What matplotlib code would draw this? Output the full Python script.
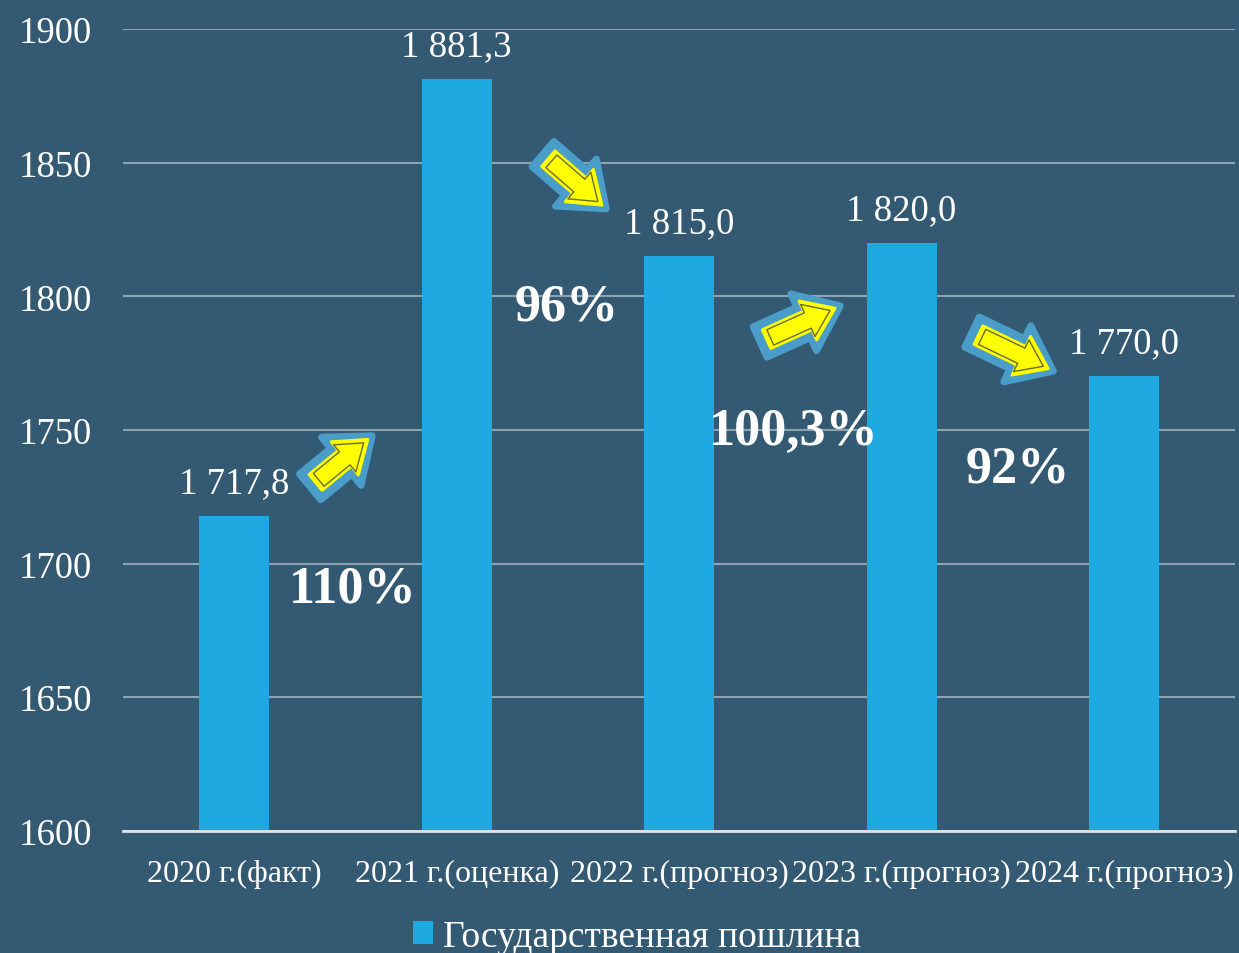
import matplotlib.pyplot as plt

plt.rcParams['font.family'] = ['Liberation Serif', 'DejaVu Serif']

years = ["2020 г.(факт)", "2021 г.(оценка)", "2022 г.(прогноз)", "2023 г.(прогноз)", "2024 г.(прогноз)"]
values = [1717.8, 1881.3, 1815.0, 1820.0, 1770.0]
labels = ["1 717,8", "1 881,3", "1 815,0", "1 820,0", "1 770,0"]
growth = ["110%", "96%", "100,3%", "92%"]

bg = '#345a73'
bar_c = '#1fa9e1'

fig = plt.figure(figsize=(12.39, 9.54), dpi=100, facecolor=bg)
ax = fig.add_axes([0.0993, 0.128, 0.8977, 0.8406])
ax.set_facecolor(bg)

x = range(len(years))
ax.bar(x, values, width=0.315, color=bar_c, zorder=2, label="Государственная пошлина")
for i, v in enumerate(values):
    ax.text(i, v + 6, labels[i], ha='center', va='bottom', color='white', fontsize=26.5)

ax.set_xlim(-0.5, 4.5)
ax.set_ylim(1600, 1900)
ax.set_yticks(range(1600, 1901, 50))
ax.set_xticks(list(x))
ax.set_xticklabels(years)
ax.tick_params(axis='y', length=0, pad=22, labelsize=26.5, labelcolor='white')
ax.tick_params(axis='x', length=0, pad=20, labelsize=23, labelcolor='white')
ax.grid(axis='y', color='#8ea3b2', lw=1.5, zorder=1)
for s in ['left', 'right', 'top']:
    ax.spines[s].set_visible(False)
ax.spines['bottom'].set_color('#dfe5ea')
ax.spines['bottom'].set_linewidth(2)

# arrows between bars
arrows = [((0.341, 1728.7), (0.62, 1747.8)),
          ((1.388, 1853.2), (1.672, 1832.7)),
          ((2.364, 1782.9), (2.724, 1796.4)),
          ((3.317, 1786.6), (3.682, 1772.0))]
for tail, head in arrows:
    ax.annotate('', xy=head, xytext=tail, zorder=4,
                arrowprops=dict(arrowstyle='simple,head_length=0.9,head_width=1.4,tail_width=0.75',
                                mutation_scale=32, fc='#4a9cc9', ec='#4a9cc9', lw=5,
                                shrinkA=0, shrinkB=0))
    ax.annotate('', xy=head, xytext=tail, zorder=5,
                arrowprops=dict(arrowstyle='simple,head_length=0.8,head_width=1.15,tail_width=0.55',
                                mutation_scale=27, fc='#ffff00', ec='#ffff00', lw=2,
                                shrinkA=5, shrinkB=4))
    ax.annotate('', xy=head, xytext=tail, zorder=6,
                arrowprops=dict(arrowstyle='simple,head_length=0.8,head_width=1.15,tail_width=0.55',
                                mutation_scale=22, fc='#ffff00', ec='#6b6b30', lw=1,
                                shrinkA=8, shrinkB=8))

pct_pos = [(0.534, 1690.5), (1.496, 1796.0), (2.513, 1749.6), (3.52, 1735.4)]
for (px, py), t in zip(pct_pos, growth):
    ax.text(px, py, t, ha='center', va='center', color='white', fontsize=37.5,
            fontweight='bold', zorder=7)

leg = ax.legend(loc='center', bbox_to_anchor=(0.514, 0.017), bbox_transform=fig.transFigure,
                frameon=False, fontsize=27, labelcolor='white', handlelength=0.55,
                handleheight=0.55, handletextpad=0.25)

fig.savefig('out.png', dpi=100, facecolor=bg)
